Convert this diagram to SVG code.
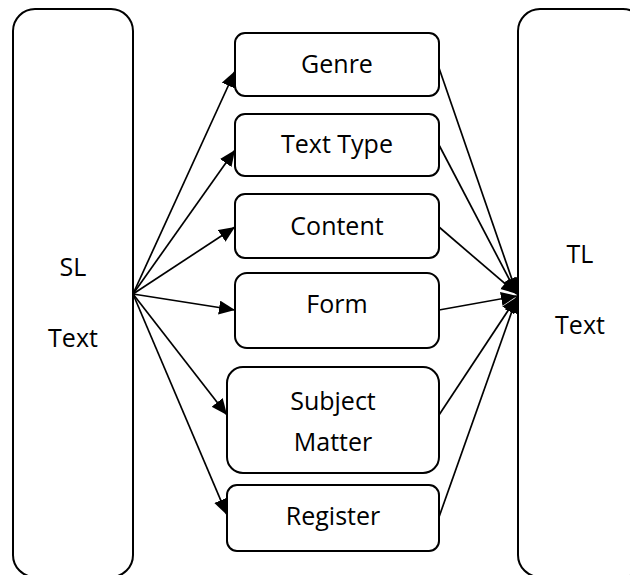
<svg xmlns="http://www.w3.org/2000/svg" width="630" height="575" viewBox="0 0 630 575">
<defs>
<style>
.box{fill:#fff;stroke:#000;stroke-width:2}
.lbl{font-family:"Open Sans","Liberation Sans",sans-serif;font-size:25px;fill:#000;text-anchor:middle}
.c{stroke:#000;stroke-width:1.7;fill:none}
</style>
<marker id="ah" markerUnits="userSpaceOnUse" markerWidth="17" markerHeight="15" refX="16" refY="7" orient="auto">
<path d="M0,0 L16,7 L0,14 Z" fill="#000"/>
</marker>
</defs>
<g id="sl">
<rect class="box" x="13" y="9" width="120" height="568" rx="22"/>
<text class="lbl" x="73" y="276">SL</text>
<text class="lbl" x="73" y="347">Text</text>
</g>
<g id="tl">
<rect class="box" x="518" y="9" width="127" height="568" rx="22"/>
<text class="lbl" x="580" y="263">TL</text>
<text class="lbl" x="580" y="334">Text</text>
</g>
<g id="genre">
<rect class="box" x="235" y="33" width="204" height="63" rx="10"/>
<text class="lbl" x="337" y="73">Genre</text>
</g>
<g id="texttype">
<rect class="box" x="235" y="114" width="204" height="62" rx="10"/>
<text class="lbl" x="337" y="153">Text Type</text>
</g>
<g id="content">
<rect class="box" x="235" y="194" width="204" height="64" rx="10"/>
<text class="lbl" x="337" y="235">Content</text>
</g>
<g id="form">
<rect class="box" x="235" y="273" width="204" height="75" rx="12"/>
<text class="lbl" x="337" y="313">Form</text>
</g>
<g id="subject">
<rect class="box" x="227" y="367" width="212" height="106" rx="16"/>
<text class="lbl" x="333" y="410">Subject</text>
<text class="lbl" x="333" y="451">Matter</text>
</g>
<g id="register">
<rect class="box" x="227" y="485" width="212" height="66" rx="10"/>
<text class="lbl" x="333" y="525">Register</text>
</g>
<g id="connectors">
<line class="c" x1="133" y1="294" x2="235" y2="71" marker-end="url(#ah)"/>
<line class="c" x1="133" y1="294" x2="235" y2="150" marker-end="url(#ah)"/>
<line class="c" x1="133" y1="294" x2="235" y2="227" marker-end="url(#ah)"/>
<line class="c" x1="133" y1="294" x2="235" y2="310" marker-end="url(#ah)"/>
<line class="c" x1="133" y1="294" x2="227" y2="415" marker-end="url(#ah)"/>
<line class="c" x1="133" y1="294" x2="227" y2="515" marker-end="url(#ah)"/>
<line class="c" x1="439" y1="68" x2="517" y2="294" marker-end="url(#ah)"/>
<line class="c" x1="439" y1="145" x2="517" y2="294" marker-end="url(#ah)"/>
<line class="c" x1="439" y1="227" x2="517" y2="294" marker-end="url(#ah)"/>
<line class="c" x1="439" y1="310" x2="517" y2="296" marker-end="url(#ah)"/>
<line class="c" x1="439" y1="415" x2="517" y2="297" marker-end="url(#ah)"/>
<line class="c" x1="439" y1="517" x2="517" y2="297" marker-end="url(#ah)"/>
</g>
</svg>
